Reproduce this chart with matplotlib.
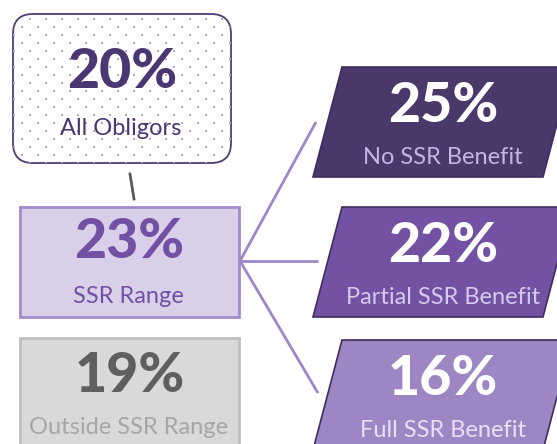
import matplotlib
matplotlib.use("Agg")
import matplotlib.pyplot as plt
from matplotlib.patches import FancyBboxPatch, Rectangle, Polygon
import numpy as np

# ---- data ----
left_values = ["20%", "23%", "19%"]
left_labels = ["All Obligors", "SSR Range", "Outside SSR Range"]
right_values = ["25%", "22%", "16%"]
right_labels = ["No SSR Benefit", "Partial SSR Benefit", "Full SSR Benefit"]

FONT = "Lato"
BIG = 40
SMALL = 17
W, H = 557, 444
fig = plt.figure(figsize=(W / 100, H / 100), dpi=100)
ax = fig.add_axes([0, 0, 1, 1])
ax.set_xlim(0, W)
ax.set_ylim(H, 0)
ax.axis("off")

# ---- top rounded dotted box ----
top_box = FancyBboxPatch((13 + 20, 14 + 20), 218 - 40, 149 - 40,
                         boxstyle="round,pad=20", fc="white", ec="#4f3d73", lw=1.3, zorder=2)
ax.add_patch(top_box)
xs, ys = [], []
for i, yy in enumerate(np.arange(19, 165, 8)):
    off = 0 if i % 2 == 0 else 8
    for xx in np.arange(14 + off, 232, 16):
        xs.append(xx); ys.append(yy)
dots = ax.scatter(xs, ys, s=3.2, c="#b3a4d3", lw=0, marker="s", zorder=3)
dots.set_clip_path(top_box)
ax.text(122, 72, left_values[0], ha="center", va="center", fontsize=BIG, fontweight="black",
        color="#4a3670", family=FONT, zorder=4)
ax.text(121, 128, left_labels[0], ha="center", va="center", fontsize=SMALL,
        color="#4a3670", family=FONT, zorder=4)

# connector
ax.plot([130, 134], [174, 199], color="#595959", lw=2, zorder=1)

# ---- SSR range box ----
ax.add_patch(Rectangle((20, 207), 219, 110, fc="#d9cfe8", ec="#a38bcb", lw=2, zorder=2))
ax.text(129, 242, left_values[1], ha="center", va="center", fontsize=BIG, fontweight="black",
        color="#7250a4", family=FONT, zorder=4)
ax.text(128, 296, left_labels[1], ha="center", va="center", fontsize=SMALL,
        color="#7250a4", family=FONT, zorder=4)

# ---- outside box ----
ax.add_patch(Rectangle((20, 338), 219, 120, fc="#d9d9d9", ec="#bfbfbf", lw=2, zorder=2))
ax.text(130, 376, left_values[2], ha="center", va="center", fontsize=BIG, fontweight="black",
        color="#5f5f5f", family=FONT, zorder=4)
ax.text(129, 427, left_labels[2], ha="center", va="center", fontsize=SMALL,
        color="#a6a6a6", family=FONT, zorder=4)

# ---- branch lines ----
for ty, tx in [(122, 316), (261, 318), (393, 318)]:
    ax.plot([240, tx], [261, ty], color="#9f86c8", lw=2, zorder=1, solid_capstyle="butt")

# ---- parallelograms ----
fills = ["#4b386b", "#7352a3", "#9d86c3"]
label_cols = ["#c5b5e0", "#d6c9ee", "#e8e0f6"]
tops = [67, 207, 340]
for k, (yt, fc) in enumerate(zip(tops, fills)):
    yb = yt + 110
    poly = Polygon([(313, yb), (342, yt), (572, yt), (543, yb)],
                   closed=True, fc=fc, ec="#3f2d5f", lw=1.2, zorder=2)
    ax.add_patch(poly)
    ax.text(443, yt + 39, right_values[k], ha="center", va="center", fontsize=BIG,
            fontweight="black", color="white", family=FONT, zorder=4)
    ax.text(443, yt + 90, right_labels[k], ha="center", va="center", fontsize=SMALL,
            color=label_cols[k], family=FONT, zorder=4)

fig.savefig("out.png", dpi=100)
